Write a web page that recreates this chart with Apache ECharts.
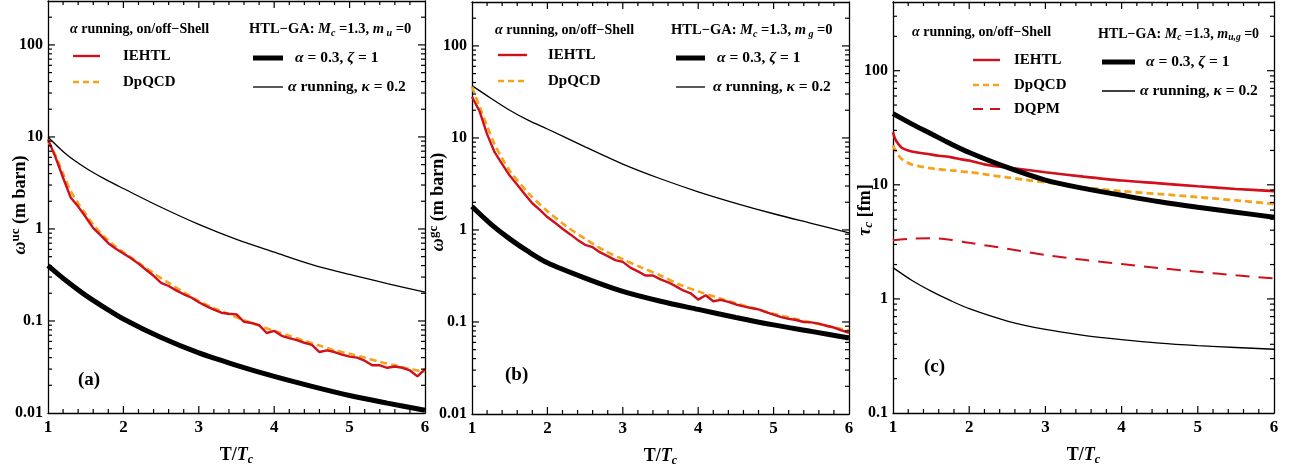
<!DOCTYPE html>
<html><head><meta charset="utf-8">
<script src="https://cdn.jsdelivr.net/npm/echarts@6/dist/echarts.min.js"></script>
<style>html,body{margin:0;padding:0;background:#fff}#c{width:1298px;height:474px}</style>
</head><body><div id="c"></div>
<script>
// ---------- DATA ----------
const tCoarse = [1,1.25,1.5,1.75,2,2.5,3,3.5,4,4.5,5,5.5,6];
const tFine = [1,1.1,1.2,1.3,1.4,1.5,1.6,1.7,1.8,1.9,2,2.1,2.2,2.3,2.4,2.5,2.6,2.7,2.8,2.9,3,3.1,3.2,3.3,3.4,3.5,3.6,3.7,3.8,3.9,4,4.1,4.2,4.3,4.4,4.5,4.6,4.7,4.8,4.9,5,5.1,5.2,5.3,5.4,5.5,5.6,5.7,5.8,5.9,6];

// panel (a)  omega^uc
const aThin  = [10,6.4,4.6,3.5,2.75,1.72,1.12,0.77,0.56,0.41,0.32,0.255,0.206];
const aThick = [0.40,0.27,0.19,0.14,0.105,0.066,0.045,0.033,0.025,0.0195,0.0155,0.0128,0.0107];
const aRed = [9.4,6.0,3.6,2.2,1.75,1.35,1.02,0.85,0.70,0.61,0.54,0.48,0.42,0.36,0.31,0.26,0.24,0.215,0.195,0.18,0.16,0.145,0.133,0.123,0.12,0.118,0.098,0.095,0.09,0.074,0.078,0.069,0.065,0.062,0.058,0.055,0.046,0.048,0.046,0.043,0.041,0.040,0.037,0.033,0.033,0.031,0.032,0.031,0.029,0.025,0.030];
const aOrangeT = [1,1.1,1.2,1.3,1.4,1.5,1.6,1.7,1.8,1.9,2,2.2,2.4,2.6,2.8,3,3.2,3.4,3.6,3.8,4,4.2,4.4,4.6,4.8,5,5.2,5.4,5.6,5.8,6];
const aOrange  = [9.0,6.3,4.0,2.6,1.9,1.45,1.12,0.9,0.75,0.64,0.56,0.43,0.33,0.26,0.205,0.165,0.138,0.118,0.102,0.089,0.078,0.069,0.061,0.054,0.048,0.044,0.040,0.036,0.033,0.030,0.028];

// panel (b)  omega^gc
const bThin  = [37,27,20,15.5,12.5,8.0,5.2,3.6,2.6,1.95,1.5,1.18,0.93];
const bThick = [1.8,1.16,0.80,0.58,0.44,0.30,0.215,0.168,0.137,0.112,0.093,0.079,0.067];
const bRed = [28,19.5,11,7.0,5.2,3.9,3.1,2.45,1.95,1.65,1.38,1.2,1.03,0.9,0.78,0.69,0.65,0.57,0.52,0.47,0.45,0.39,0.355,0.32,0.32,0.29,0.27,0.245,0.22,0.205,0.175,0.195,0.168,0.174,0.165,0.155,0.148,0.142,0.137,0.128,0.12,0.113,0.108,0.105,0.1,0.099,0.096,0.091,0.087,0.081,0.076];
const bOrangeT = [1,1.1,1.2,1.3,1.4,1.5,1.75,2,2.25,2.5,2.75,3,3.25,3.5,3.75,4,4.25,4.5,4.75,5,5.25,5.5,5.75,6];
const bOrange  = [36,22,13.5,8.5,6,4.4,2.5,1.6,1.1,0.8,0.6,0.48,0.39,0.32,0.255,0.215,0.185,0.16,0.14,0.123,0.11,0.099,0.089,0.081];

// panel (c)  tau_c
const cThick = [42,34,28,23,19.2,14.2,11.0,9.3,8.1,7.1,6.35,5.75,5.2];
const cThin  = [1.88,1.45,1.17,0.97,0.82,0.64,0.54,0.48,0.44,0.41,0.39,0.375,0.362];
const cDqpm  = [3.27,3.38,3.4,3.3,3.1,2.75,2.42,2.2,2.02,1.86,1.73,1.61,1.51];
const cRedT  = [1,1.03,1.07,1.12,1.2,1.3,1.46,1.6,1.77,1.9,2,2.2,2.4,2.64,3,3.5,4,4.5,5,5.5,6];
const cRed   = [28.8,25,22.8,21,20,19.3,18.6,18.0,17.4,16.7,16.3,15.1,14.4,13.8,12.9,11.8,10.9,10.3,9.7,9.2,8.8];
const cOrangeT = [1,1.05,1.11,1.18,1.24,1.35,1.55,1.8,2,2.5,3,3.5,4,4.5,5,5.5,6];
const cOrange  = [22,19,16.9,15.8,15.1,14.5,13.8,13.3,12.9,11.6,10.5,9.5,8.8,8.3,7.8,7.3,6.8];

const xTicks = [1,2,3,4,5,6];
const yLabelValues = [0.01, 0.1, 1, 10, 100];
const yRangeA = [0.01, 300], yRangeB = [0.01, 300], yRangeC = [0.1, 400];

// ---------- STYLE ----------
const SERIF = '"Liberation Serif","DejaVu Serif",serif';
const RED = '#d0101a', ORANGE = '#f7a21b';
const pair = (xs, ys) => xs.map((x, i) => [x, ys[i]]);

const grids = [
  {left: 48, top: 1, width: 377, height: 412, outerBoundsMode: 'none', containLabel: false},
  {left: 472, top: 2, width: 377, height: 412, outerBoundsMode: 'none', containLabel: false},
  {left: 893, top: 2, width: 381, height: 411, outerBoundsMode: 'none', containLabel: false}
];
const yRanges = [yRangeA, yRangeB, yRangeC];

const richBase = {
  n: {fontFamily: SERIF, fontWeight: 'bold', fontSize: 18, color: '#000'},
  i: {fontFamily: SERIF, fontWeight: 'bold', fontStyle: 'italic', fontSize: 18, color: '#000'},
  sub: {fontFamily: SERIF, fontWeight: 'bold', fontStyle: 'italic', fontSize: 12, color: '#000', padding: [9, 0, 0, 0]}
};

const xAxes = [], yAxes = [];
grids.forEach((g, k) => {
  const lineSt = {show: true, onZero: false, lineStyle: {color: '#000', width: 1.3}};
  const base = {type: 'value', min: 1, max: 6, interval: 1, gridIndex: k, axisLine: lineSt,
                splitLine: {show: false}, axisTick: {show: false}, minorTick: {show: false}};
  xAxes.push(Object.assign({}, base, {
    position: 'bottom',
    axisLabel: {fontFamily: SERIF, fontWeight: 'bold', fontSize: 17, color: '#000', margin: 6,
                formatter: v => xTicks.includes(v) ? String(v) : ''},
    name: '{n|T/}{i|T}{sub|c}', nameLocation: 'middle', nameGap: 32, nameMoveOverlap: false,
    nameTextStyle: {rich: richBase}
  }));
  xAxes.push(Object.assign({}, base, {position: 'top', axisLabel: {show: false}}));
  const ybase = {type: 'log', logBase: 10, min: yRanges[k][0], max: yRanges[k][1], gridIndex: k,
                 axisLine: lineSt, splitLine: {show: false}, axisTick: {show: false}, minorTick: {show: false}};
  yAxes.push(Object.assign({}, ybase, {
    position: 'left',
    axisLabel: {fontFamily: SERIF, fontWeight: 'bold', fontSize: 16, color: '#000', margin: 5,
                formatter: v => { const r = Number(Number(v).toPrecision(3));
                                  return yLabelValues.includes(r) ? String(r) : ''; }}
  }));
  yAxes.push(Object.assign({}, ybase, {position: 'right', axisLabel: {show: false}}));
});

function line(k, data, color, width, dash, smooth) {
  return {
    type: 'line', xAxisIndex: 2 * k, yAxisIndex: 2 * k, data: data,
    showSymbol: false, symbol: 'none', smooth: smooth === undefined ? 0.3 : smooth,
    lineStyle: {color: color, width: width, type: dash || 'solid', cap: 'butt'},
    silent: true, animation: false
  };
}

const series = [
  line(0, pair(tCoarse, aThin), '#000', 1.3),
  line(0, pair(tCoarse, aThick), '#000', 5),
  line(0, pair(aOrangeT, aOrange), ORANGE, 2.6, [7, 4]),
  line(0, pair(tFine, aRed), RED, 2.4, 'solid', false),
  line(1, pair(tCoarse, bThin), '#000', 1.3),
  line(1, pair(tCoarse, bThick), '#000', 5),
  line(1, pair(bOrangeT, bOrange), ORANGE, 2.6, [7, 4]),
  line(1, pair(tFine, bRed), RED, 2.4, 'solid', false),
  line(2, pair(tCoarse, cThin), '#000', 1.3),
  line(2, pair(tCoarse, cDqpm), RED, 2, [14, 9]),
  line(2, pair(cOrangeT, cOrange), ORANGE, 2.8, [7, 4]),
  line(2, pair(cRedT, cRed), RED, 2.6),
  line(2, pair(tCoarse, cThick), '#000', 5)
];

// ---------- LEGEND / ANNOTATION GRAPHICS ----------
function mkRich(sz) {
  return {
    n: {fontFamily: SERIF, fontWeight: 'bold', fontSize: sz, fill: '#000'},
    i: {fontFamily: SERIF, fontWeight: 'bold', fontStyle: 'italic', fontSize: sz, fill: '#000'},
    s: {fontFamily: SERIF, fontWeight: 'bold', fontStyle: 'italic', fontSize: sz - 4.5, fill: '#000', padding: [8, 0, 0, 0]},
    p: {fontFamily: SERIF, fontWeight: 'bold', fontSize: sz - 5, fill: '#000', padding: [0, 0, 9, 0]}
  };
}
function txt(x, y, t, size, rot) {
  return {type: 'text', x: x, y: y, silent: true, rotation: rot || 0,
    style: {text: t, fontFamily: SERIF, fontWeight: 'bold', fontSize: size, fill: '#000',
            verticalAlign: 'middle', align: rot ? 'center' : 'left', rich: mkRich(size)}};
}
function seg(x1, y1, x2, y2, color, w, dash) {
  return {type: 'line', silent: true, z: 10, shape: {x1: x1, y1: y1, x2: x2, y2: y2},
    style: {stroke: color, lineWidth: w, lineDash: dash || null}};
}
function panelLegend(o) {
  const out = [
    txt(o.hx, o.hy, '{i|α}{n| running, on/off−Shell}', 14),
    txt(o.gx, o.gy, '{n|HTL−GA: }{i|M}{s|c}{n| =1.3, }{i|m}{s|' + o.sub + '}{n| =0}', o.gs || 14.5),
    seg(o.lx1, o.ry, o.lx2, o.ry, RED, 2.4), txt(o.tx, o.ry, 'IEHTL', 15),
    seg(o.lx1, o.oy, o.lx2, o.oy, ORANGE, 2.6, [6, 4]), txt(o.tx, o.oy, 'DpQCD', 15),
    seg(o.kx1, o.ky, o.kx2, o.ky, '#000', 5), txt(o.ktx, o.ky, '{i|α}{n| = 0.3, }{i|ζ}{n| = 1}', 15.5),
    seg(o.kx1, o.ny, o.kx2, o.ny, '#000', 1.3), txt(o.ntx, o.ny, '{i|α}{n| running, }{i|κ}{n| = 0.2}', 15.5)
  ];
  if (o.dy) { out.push(seg(o.lx1, o.dy, o.lx2, o.dy, RED, 2, [10, 7]), txt(o.tx, o.dy, 'DQPM', 15)); }
  return out;
}
const graphics = [].concat(
  panelLegend({hx: 70, hy: 29, gx: 249, gy: 29, sub: ' u', lx1: 73, lx2: 100, tx: 123, ry: 56, oy: 82,
               kx1: 253, kx2: 283, ky: 58, ktx: 295, ny: 87, ntx: 288}),
  panelLegend({hx: 495, hy: 30, gx: 671, gy: 30, sub: ' g', lx1: 498, lx2: 527, tx: 548, ry: 55, oy: 81,
               kx1: 676, kx2: 705, ky: 58, ktx: 717, ny: 87, ntx: 713}),
  panelLegend({hx: 912, hy: 32, gx: 1098, gy: 34, gs: 14, sub: 'u,g', lx1: 973, lx2: 1000, tx: 1014, ry: 60, oy: 85, dy: 109,
               kx1: 1102, kx2: 1135, ky: 62, ktx: 1146, ny: 91, ntx: 1140}),
  [txt(78, 380, '(a)', 19), txt(505, 375, '(b)', 19), txt(924, 367, '(c)', 19)],
  [txt(20, 205, '{i|ω}{p|uc}{n| (m barn)}', 18, Math.PI / 2),
   txt(438, 202, '{i|ω}{p|gc}{n| (m barn)}', 18, Math.PI / 2),
   txt(865, 210, '{i|τ}{s|c}{n| [fm]}', 18, Math.PI / 2)]
);

const chart = echarts.init(document.getElementById('c'), null, {renderer: 'canvas'});
chart.setOption({
  animation: false,
  backgroundColor: '#fff',
  grid: grids,
  xAxis: xAxes,
  yAxis: yAxes,
  series: series,
  graphic: graphics
});

// ---------- FRAME TICKS (positions from the chart's own scales) ----------
function addTicks() {
  const ticks = [];
  grids.forEach((g, k) => {
    const finder = {xAxisIndex: 2 * k, yAxisIndex: 2 * k};
    const [y0, y1] = yRanges[k];
    const pBL = chart.convertToPixel(finder, [1, y0]);
    const pTR = chart.convertToPixel(finder, [6, y1]);
    const bottom = pBL[1], top = pTR[1], left = pBL[0], right = pTR[0];
    for (let i = 1; i < 25; i++) {
      const px = chart.convertToPixel(finder, [1 + i * 0.2, y0])[0];
      const len = (i % 5 === 0) ? 7 : 4;
      ticks.push(seg(px, bottom, px, bottom - len, '#000', 1.2));
      ticks.push(seg(px, top, px, top + len, '#000', 1.2));
    }
    for (let e = -3; e <= 3; e++) {
      for (let m = 1; m <= 9; m++) {
        const v = m * Math.pow(10, e);
        if (v <= y0 * 1.0001 || v >= y1 * 0.9999) continue;
        const py = chart.convertToPixel(finder, [1, v])[1];
        const len = m === 1 ? 7 : 4;
        ticks.push(seg(left, py, left + len, py, '#000', 1.2));
        ticks.push(seg(right, py, right - len, py, '#000', 1.2));
      }
    }
  });
  chart.setOption({graphic: {elements: graphics.concat(ticks)}}, {replaceMerge: ['graphic']});
}
addTicks();
</script>
</body></html>
